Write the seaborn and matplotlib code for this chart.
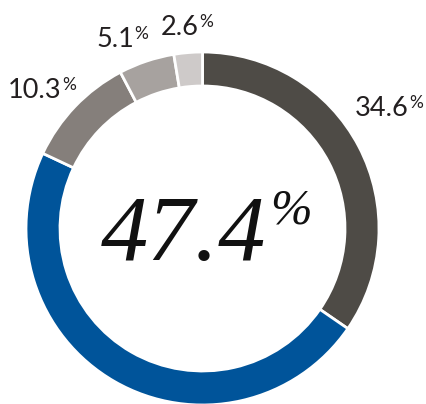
import matplotlib
matplotlib.use("Agg")
import matplotlib.pyplot as plt
import seaborn as sns

# Data
segments = ["Segment A", "Segment B", "Segment C", "Segment D", "Segment E"]
shares = [34.6, 47.4, 10.3, 5.1, 2.6]
colors = ["#4e4b46", "#00549a", "#857f7b", "#a7a29f", "#cecac9"]
headline = 47.4

# Layout (pixels, origin bottom-left; axes map 1:1 to pixels)
W, H = 426, 404
CENTER = (202.5, 175.5)
RADIUS = 176.5
RING = 34
label_pos = [(355, 288), (160, 0), (8, 306), (96, 357), (161, 369)]  # left x, baseline y

sns.set_theme(style="white")
plt.rcParams["font.family"] = ["Lato", "DejaVu Sans"]
TXT = "#231f20"

fig = plt.figure(figsize=(W / 100, H / 100), dpi=100)
ax = fig.add_axes([0, 0, 1, 1])

wedges, _ = ax.pie(
    shares,
    colors=colors,
    startangle=90,
    counterclock=False,
    center=CENTER,
    radius=RADIUS,
    wedgeprops=dict(width=RING, edgecolor="white", linewidth=2.0),
)
ax.set_xlim(0, W)
ax.set_ylim(0, H)
ax.set_aspect("equal")
ax.axis("off")

fig.canvas.draw()
renderer = fig.canvas.get_renderer()

# outer labels, skipping the headline segment
for val, pos in zip(shares, label_pos):
    if val == headline:
        continue
    t = ax.text(pos[0], pos[1], f"{val:.1f}", fontsize=19.5, fontweight="normal",
                color=TXT, ha="left", va="baseline")
    bb = t.get_window_extent(renderer)
    ax.text(bb.x1 + 0.5, pos[1] + 8, "%", fontsize=12.5, fontweight="normal",
            color=TXT, ha="left", va="baseline")

# big centre figure
serif = ["Liberation Serif", "DejaVu Serif"]
base_y = CENTER[1] - 31.5
c = ax.text(CENTER[0] - 19.5, base_y, f"{headline:.1f}", fontsize=68,
            family=serif, style="italic", color="#111111", ha="center", va="baseline")
cb = c.get_window_extent(renderer)
ax.text(cb.x1 + 4, base_y + 36, "%", fontsize=36, family=serif, style="italic",
        color="#111111", ha="left", va="baseline")

fig.savefig("out.png", dpi=100)
